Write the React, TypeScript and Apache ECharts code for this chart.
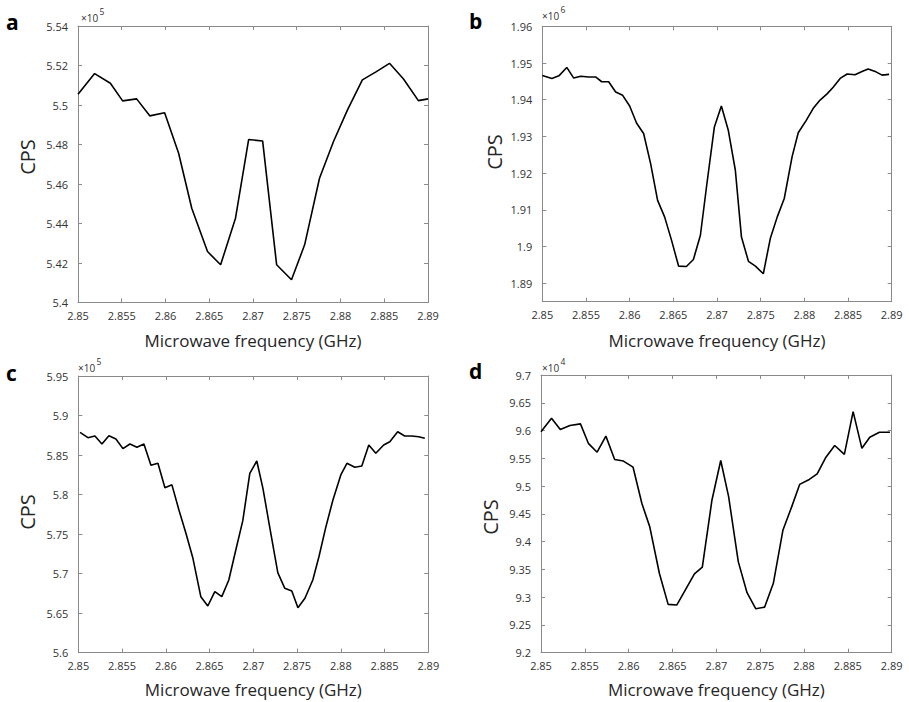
import React, { useEffect, useRef } from "react";
import * as echarts from "echarts";

// ---------- data (CPS values as read on each axis, i.e. in units of the ×10^n multiplier) ----------
const freqA = [2.85, 2.8519, 2.8537, 2.8551, 2.8567, 2.8582, 2.8599, 2.8615, 2.863, 2.8648, 2.8663, 2.868, 2.8695, 2.8711, 2.8727, 2.8744, 2.8759, 2.8776, 2.8792, 2.8808, 2.8825, 2.8841, 2.8856, 2.8872, 2.8889, 2.89];
const cpsA = [5.5054, 5.5159, 5.511, 5.5021, 5.5031, 5.4945, 5.4961, 5.4756, 5.4477, 5.4258, 5.4191, 5.4427, 5.4825, 5.4818, 5.4191, 5.4115, 5.4292, 5.4629, 5.4815, 5.4975, 5.5127, 5.5169, 5.5211, 5.5132, 5.5022, 5.5031];

const freqB = [2.85, 2.8511, 2.8519, 2.8528, 2.8536, 2.8544, 2.8553, 2.8561, 2.8568, 2.8576, 2.8584, 2.8592, 2.86, 2.8608, 2.8616, 2.8624, 2.8632, 2.864, 2.8648, 2.8656, 2.8665, 2.8673, 2.8681, 2.8688, 2.8697, 2.8705, 2.8713, 2.8721, 2.8728, 2.8736, 2.8744, 2.8753, 2.8761, 2.8769, 2.8777, 2.8786, 2.8793, 2.8802, 2.881, 2.8818, 2.8826, 2.8833, 2.8841, 2.8849, 2.8858, 2.8866, 2.8873, 2.8882, 2.8889, 2.8897];
const cpsB = [1.9466, 1.9458, 1.9465, 1.9488, 1.9459, 1.9464, 1.9462, 1.9462, 1.9449, 1.9449, 1.9421, 1.9412, 1.9383, 1.9336, 1.9308, 1.9226, 1.9126, 1.9081, 1.9017, 1.8947, 1.8946, 1.8965, 1.9031, 1.9163, 1.9326, 1.9383, 1.9316, 1.9208, 1.9026, 1.896, 1.8947, 1.8926, 1.9022, 1.9081, 1.9131, 1.9245, 1.931, 1.9343, 1.9376, 1.9399, 1.9416, 1.9434, 1.9458, 1.947, 1.9468, 1.9477, 1.9484, 1.9476, 1.9467, 1.9469];

const freqC = [2.8502, 2.8511, 2.8519, 2.8527, 2.8535, 2.8543, 2.8551, 2.8559, 2.8567, 2.8575, 2.8583, 2.8591, 2.8599, 2.8607, 2.8615, 2.8623, 2.8631, 2.864, 2.8648, 2.8656, 2.8664, 2.8672, 2.868, 2.8688, 2.8696, 2.8704, 2.8711, 2.8719, 2.8728, 2.8736, 2.8744, 2.8751, 2.8759, 2.8768, 2.8775, 2.8783, 2.8791, 2.88, 2.8807, 2.8816, 2.8824, 2.8832, 2.884, 2.8849, 2.8856, 2.8865, 2.8873, 2.8881, 2.8889, 2.8896];
const cpsC = [5.8787, 5.872, 5.8741, 5.864, 5.8745, 5.8703, 5.8581, 5.864, 5.8598, 5.864, 5.837, 5.8396, 5.8087, 5.8123, 5.7805, 5.751, 5.7194, 5.6709, 5.6591, 5.6772, 5.6709, 5.692, 5.7299, 5.767, 5.8269, 5.8425, 5.8079, 5.7573, 5.7012, 5.6814, 5.678, 5.6569, 5.6688, 5.692, 5.7214, 5.7594, 5.7932, 5.8248, 5.8396, 5.8345, 5.8362, 5.8627, 5.8522, 5.8627, 5.8669, 5.8795, 5.8741, 5.8741, 5.8732, 5.8712];

const freqD = [2.85, 2.8512, 2.8522, 2.8533, 2.8545, 2.8554, 2.8564, 2.8574, 2.8584, 2.8594, 2.8605, 2.8615, 2.8624, 2.8635, 2.8645, 2.8655, 2.8665, 2.8675, 2.8684, 2.8695, 2.8705, 2.8714, 2.8725, 2.8735, 2.8745, 2.8755, 2.8765, 2.8776, 2.8786, 2.8795, 2.8806, 2.8815, 2.8825, 2.8835, 2.8846, 2.8856, 2.8866, 2.8875, 2.8886, 2.8898];
const cpsD = [9.598, 9.622, 9.602, 9.609, 9.612, 9.577, 9.561, 9.59, 9.548, 9.545, 9.534, 9.469, 9.427, 9.343, 9.287, 9.286, 9.314, 9.342, 9.354, 9.475, 9.546, 9.481, 9.364, 9.308, 9.279, 9.282, 9.325, 9.421, 9.463, 9.503, 9.512, 9.522, 9.552, 9.573, 9.557, 9.634, 9.568, 9.588, 9.597, 9.597];

// axis ranges: [min, max, interval]
const xRange = [2.85, 2.89, 0.005];
const yRangeA = [5.4, 5.54, 0.02];
const yRangeB = [1.885, 1.96, 0]; // ticks every 0.01 (from 1.89), computed by the axis
const yRangeC = [5.6, 5.95, 0.05];
const yRangeD = [9.2, 9.7, 0.05];

const panelLetters = ["a", "b", "c", "d"];
const exponents = ["5", "6", "5", "4"];
const xTitle = "Microwave frequency (GHz)";
const yTitle = "CPS";

// ---------- layout ----------
const FONT = '"Open Sans", "Liberation Sans", sans-serif';
const AXIS_COLOR = "#8a8a8a";
const LABEL_COLOR = "#333333";

const layout = [
  { grid: { left: 78, top: 26, width: 350, height: 276.5 }, letter: [6, 22], exp: [81, 18], cps: [27, 157], titleY: 340 },
  { grid: { left: 542.3, top: 26.3, width: 349.4, height: 275.4 }, letter: [469, 21], exp: [542, 16], cps: [494, 152], titleY: 340 },
  { grid: { left: 78.3, top: 376, width: 350, height: 276.7 }, letter: [6, 373], exp: [78, 368], cps: [27, 512], titleY: 689 },
  { grid: { left: 541, top: 375, width: 350.7, height: 277.7 }, letter: [469, 371], exp: [542, 368], cps: [490, 517], titleY: 689 },
];

const fmt = (v: number) => String(parseFloat(v.toFixed(4)));

export default function App() {
  const ref = useRef<HTMLDivElement>(null);

  useEffect(() => {
    if (!ref.current) return;
    const chart = echarts.init(ref.current, undefined, { renderer: "svg" });

    const freqs = [freqA, freqB, freqC, freqD];
    const values = [cpsA, cpsB, cpsC, cpsD];
    const yRanges = [yRangeA, yRangeB, yRangeC, yRangeD];

    const grids: any[] = [];
    const xAxes: any[] = [];
    const yAxes: any[] = [];
    const series: any[] = [];
    const graphics: any[] = [];

    layout.forEach((p, i) => {
      grids.push({ ...p.grid, containLabel: false });
      const baseX = {
        type: "value",
        gridIndex: i,
        min: xRange[0],
        max: xRange[1],
        interval: xRange[2],
        axisLine: { show: true, onZero: false, lineStyle: { color: AXIS_COLOR, width: 1 } },
        axisTick: { show: true, inside: true, length: 4, lineStyle: { color: AXIS_COLOR } },
        splitLine: { show: false },
      };
      xAxes.push({
        ...baseX,
        position: "bottom",
        axisLabel: { color: LABEL_COLOR, fontSize: 11, fontFamily: FONT, margin: 7, formatter: fmt },
      });
      xAxes.push({ ...baseX, position: "top", axisLabel: { show: false } });

      const yr = yRanges[i];
      const baseY: any = {
        type: "value",
        gridIndex: i,
        min: yr[0],
        max: yr[1],
        axisLine: { show: true, onZero: false, lineStyle: { color: AXIS_COLOR, width: 1 } },
        axisTick: { show: true, inside: true, length: 4, lineStyle: { color: AXIS_COLOR } },
        splitLine: { show: false },
      };
      if (yr[2] > 0) baseY.interval = yr[2];
      else baseY.splitNumber = 7;
      yAxes.push({
        ...baseY,
        position: "left",
        axisLabel: {
          color: LABEL_COLOR,
          fontSize: 11,
          fontFamily: FONT,
          margin: 10,
          formatter: fmt,
          showMinLabel: yr[2] > 0,
        },
      });
      yAxes.push({ ...baseY, position: "right", axisLabel: { show: false } });

      series.push({
        type: "line",
        xAxisIndex: 2 * i,
        yAxisIndex: 2 * i,
        data: freqs[i].map((f, k) => [f, values[i][k]]),
        showSymbol: false,
        symbol: "none",
        lineStyle: { color: "#000000", width: 1.6 },
        z: 3,
      });

      // panel letter
      graphics.push({
        type: "text",
        x: p.letter[0],
        y: p.letter[1],
        style: {
          text: panelLetters[i],
          fill: "#000",
          font: `bold 21px ${FONT}`,
          textAlign: "left",
          textVerticalAlign: "middle",
        },
      });
      // ×10^n multiplier
      graphics.push({
        type: "text",
        x: p.exp[0],
        y: p.exp[1],
        style: {
          text: "×10",
          fill: LABEL_COLOR,
          font: `10px ${FONT}`,
          textAlign: "left",
          textVerticalAlign: "middle",
        },
      });
      graphics.push({
        type: "text",
        x: p.exp[0] + 18.5,
        y: p.exp[1] - 7,
        style: {
          text: exponents[i],
          fill: LABEL_COLOR,
          font: `8.5px ${FONT}`,
          textAlign: "left",
          textVerticalAlign: "middle",
        },
      });
      // y title
      graphics.push({
        type: "text",
        x: p.cps[0],
        y: p.cps[1],
        rotation: Math.PI / 2,
        style: {
          text: yTitle,
          fill: "#262626",
          font: `20px ${FONT}`,
          textAlign: "center",
          textVerticalAlign: "middle",
        },
      });
      // x title
      graphics.push({
        type: "text",
        x: p.grid.left + p.grid.width / 2,
        y: p.titleY,
        style: {
          text: xTitle,
          fill: "#262626",
          font: `17px ${FONT}`,
          textAlign: "center",
          textVerticalAlign: "middle",
        },
      });
    });

    chart.setOption({
      animation: false,
      backgroundColor: "#ffffff",
      grid: grids,
      xAxis: xAxes,
      yAxis: yAxes,
      series,
      graphic: graphics,
    });

    return () => chart.dispose();
  }, []);

  return (
    <div
      ref={ref}
      style={{ position: "fixed", left: 0, top: 0, width: 909, height: 702, background: "#fff" }}
    />
  );
}
